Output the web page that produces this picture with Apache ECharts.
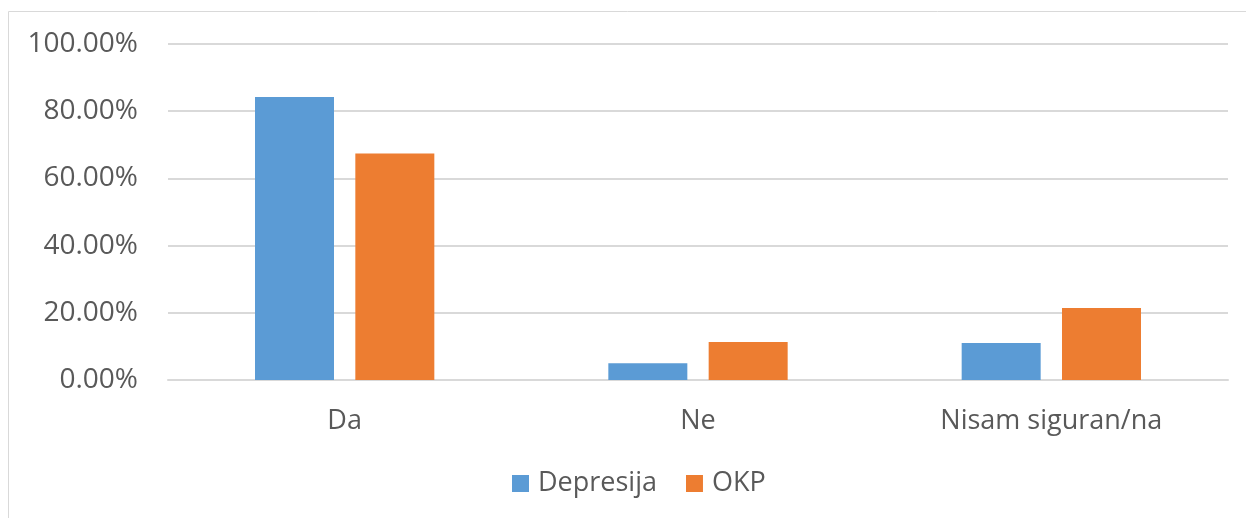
<!DOCTYPE html>
<html>
<head>
<meta charset="utf-8">
<script src="https://cdn.jsdelivr.net/npm/echarts@6/dist/echarts.min.js"></script>
<style>
  html, body { margin: 0; padding: 0; background: #fff; }
  #chart { width: 1246px; height: 518px; }
</style>
</head>
<body>
<div id="chart"></div>
<script>
// categories and series values (percent)
const categories = ['Da', 'Ne', 'Nisam siguran/na'];
const depresija = [84.2, 5.0, 11.0];
const okp = [67.4, 11.3, 21.4];
const yTicks = [0, 20, 40, 60, 80, 100];

const textColor = '#595959';
const font = '"Open Sans", "Noto Sans", sans-serif';

const chart = echarts.init(document.getElementById('chart'));
chart.setOption({
  animation: false,
  textStyle: { fontFamily: font },
  graphic: [{
    type: 'rect',
    shape: { x: 8.5, y: 11.5, width: 1260, height: 540 },
    style: { fill: 'none', stroke: '#d9d9d9', lineWidth: 1 },
    silent: true
  }],
  grid: { left: 168, right: 18, top: 44, bottom: 138 },
  legend: {
    bottom: 16,
    left: 507,
    itemWidth: 17,
    itemHeight: 17,
    itemGap: 29,
    icon: 'rect',
    textStyle: { color: textColor, fontSize: 27, fontFamily: font, padding: [0, 0, 0, 4] },
    data: ['Depresija', 'OKP']
  },
  xAxis: {
    type: 'category',
    data: categories,
    axisLine: { lineStyle: { color: '#d9d9d9', width: 2 } },
    axisTick: { show: false },
    axisLabel: { color: textColor, fontSize: 27, margin: 28 }
  },
  yAxis: {
    type: 'value',
    min: yTicks[0],
    max: yTicks[yTicks.length - 1],
    interval: 20,
    axisLine: { show: false },
    axisTick: { show: false },
    splitLine: { lineStyle: { color: '#d9d9d9', width: 2 } },
    axisLabel: {
      color: textColor,
      fontSize: 28,
      margin: 30,
      formatter: v => v.toFixed(2) + '%'
    }
  },
  series: [
    {
      name: 'Depresija',
      type: 'bar',
      data: depresija,
      barWidth: 79,
      barGap: '27%',
      itemStyle: { color: '#5b9bd5' }
    },
    {
      name: 'OKP',
      type: 'bar',
      data: okp,
      barWidth: 79,
      barGap: '27%',
      itemStyle: { color: '#ed7d31' }
    }
  ]
});
</script>
</body>
</html>
